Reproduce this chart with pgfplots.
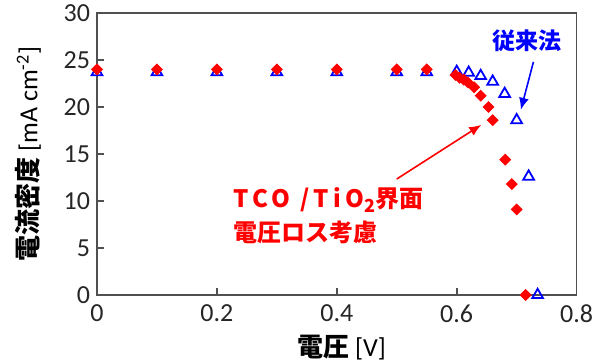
\documentclass[border=0pt]{standalone}
\usepackage{fontspec}
\usepackage{pgfplots}
\pgfplotsset{compat=1.18}
\usetikzlibrary{arrows.meta}
\setmainfont{Carlito}
\newfontfamily\jp{Noto Sans CJK JP}
\definecolor{axgray}{RGB}{80,80,80}
\begin{document}
\begin{tikzpicture}
\begin{axis}[
  scale only axis,
  width=239.8pt, height=141pt,
  xmin=0, xmax=0.8, ymin=0, ymax=30,
  xtick={0,0.2,0.4,0.6,0.8},
  ytick={0,5,10,15,20,25,30},
  tick align=inside,
  xtick pos=bottom, ytick pos=left,
  major tick length=3.5pt,
  axis line style={axgray, line width=0.8pt},
  tick style={axgray, line width=0.8pt},
  /pgf/number format/assume math mode=true,
  ticklabel style={font=\fontsize{13}{15}\selectfont, text=black!85},
  xticklabel style={/pgf/number format/fixed, yshift=-1.5pt},
  xlabel={{\jp\bfseries 電圧} [V]},
  ylabel={{\jp\bfseries 電流密度} [mA cm\textsuperscript{-2}]},
  xlabel style={font=\fontsize{13}{15}\selectfont, at={(axis description cs:0.51,-0.188)}, anchor=center},
  ylabel style={font=\fontsize{13}{15}\selectfont, at={(axis description cs:-0.1439,0.5)}, anchor=center},
  clip=false,
]
\addplot[only marks, mark=triangle, mark size=3.1pt, blue, mark options={line width=0.9pt}] coordinates {
(0,23.7)(0.1,23.7)(0.2,23.7)(0.3,23.7)(0.4,23.7)(0.5,23.7)(0.55,23.7)
(0.6,23.75)(0.62,23.65)(0.64,23.3)(0.66,22.7)(0.68,21.4)(0.70,18.6)(0.72,12.6)(0.735,0)
};
\addplot[only marks, mark=square*, mark size=1.9pt, red, mark options={rotate=45, fill=red, draw=red}] coordinates {
(0,24.0)(0.1,24.0)(0.2,24.0)(0.3,24.0)(0.4,24.0)(0.5,24.0)(0.55,24.0)
(0.598,23.4)(0.605,23.1)(0.612,22.9)(0.619,22.6)(0.629,22.1)(0.640,21.2)(0.653,20.0)(0.660,18.6)
(0.681,14.4)(0.692,11.8)(0.700,9.1)(0.715,0)
};
\node[blue, font=\jp\bfseries\fontsize{11.5}{13}\selectfont, anchor=center] at (axis cs:0.717,27.0) {従来法};
\draw[blue, line width=0.8pt, -{Latex[length=6pt,width=5pt]}] (axis cs:0.728,24.8) -- (axis cs:0.707,19.7);
\draw[red, line width=0.8pt, -{Latex[length=6pt,width=5pt]}] (axis cs:0.500,12.34) -- (axis cs:0.641,18.1);
\node[red, font=\jp\bfseries\fontsize{12}{14}\selectfont, anchor=west, inner sep=0pt] at (axis cs:0.227,10.1) {{\addfontfeature{LetterSpace=18}TCO /TiO}\raisebox{-0.35ex}{\fontsize{9}{10}\selectfont 2}界面};
\node[red, font=\jp\bfseries\fontsize{12}{14}\selectfont, anchor=west, inner sep=0pt] at (axis cs:0.227,6.7) {電圧ロス考慮};
\coordinate (bl) at (rel axis cs:0,0);
\coordinate (tr) at (rel axis cs:1,1);
\end{axis}
\pgfresetboundingbox
\path ([xshift=-48.5pt,yshift=-34pt]bl) rectangle ([xshift=13.2pt,yshift=6.5pt]tr);
\end{tikzpicture}
\end{document}
